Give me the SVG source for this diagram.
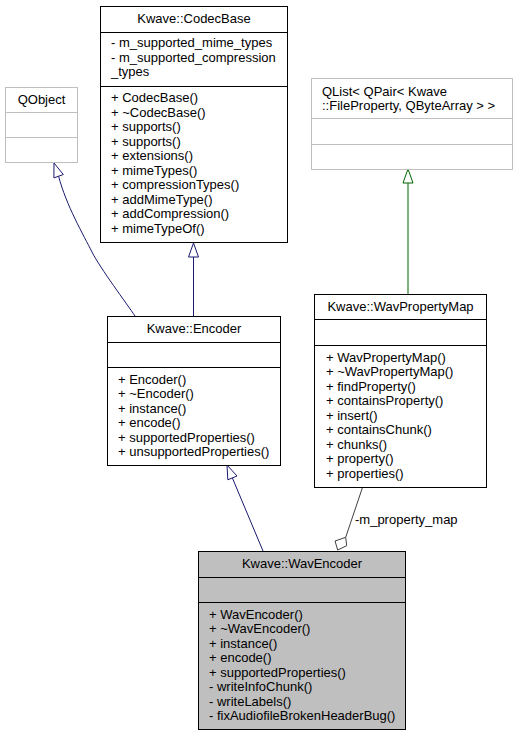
<svg xmlns="http://www.w3.org/2000/svg" width="517" height="736" viewBox="0 0 517 736">
<style>
text{font-family:"Liberation Sans",Arial,Helvetica,sans-serif;font-size:13px;fill:#000}
.t{text-anchor:middle}
.box{fill:#fff;stroke:#000;stroke-width:1}
.gbox{fill:#fff;stroke:#bfbfbf;stroke-width:1}
.sel{fill:#bfbfbf;stroke:#000;stroke-width:1}
.sep{stroke:#000;stroke-width:1}
.gsep{stroke:#bfbfbf;stroke-width:1}
.inh{fill:none;stroke:#191970;stroke-width:1}
.inhh{fill:#fff;stroke:#191970;stroke-width:1}
.tmp{fill:none;stroke:#006400;stroke-width:1}
.tmph{fill:#fff;stroke:#006400;stroke-width:1}
.agg{fill:none;stroke:#404040;stroke-width:1}
.aggh{fill:#fff;stroke:#404040;stroke-width:1}
</style>
<rect width="517" height="736" fill="#fff"/>
<g id="connectors">
<path class="inh" d="M135,316 C127,304 100,268 92,252 C84,236 66,205 58.6,176.2"/>
<polygon class="inhh" points="54,163 63.3,174.5 53.9,177.9"/>
<path class="inh" d="M193.5,316 L193.5,257"/>
<polygon class="inhh" points="193.5,243 198.5,257 188.5,257"/>
<path class="tmp" d="M408,294 L408,183"/>
<polygon class="tmph" points="408,169 413,183 403,183"/>
<path class="inh" d="M263,551 L232.4,478"/>
<polygon class="inhh" points="227,465 237,476 227.8,479.8"/>
<path class="agg" d="M362.3,488 L345.7,537.3"/>
<polygon class="aggh" points="345.7,537.3 346.7,545.7 337.7,550 335,541"/>
<text x="355" y="523.5">-m_property_map</text>
</g>
<g id="QObject">
<rect class="gbox" x="5.5" y="87.5" width="72" height="75"/>
<line class="gsep" x1="5.5" y1="112.5" x2="77.5" y2="112.5"/>
<line class="gsep" x1="5.5" y1="137.5" x2="77.5" y2="137.5"/>
<text class="t" x="41.5" y="104">QObject</text>
</g>
<g id="CodecBase">
<rect class="box" x="100.5" y="6.5" width="187" height="236"/>
<line class="sep" x1="100.5" y1="32.5" x2="287.5" y2="32.5"/>
<line class="sep" x1="100.5" y1="86.5" x2="287.5" y2="86.5"/>
<text class="t" x="194" y="23">Kwave::CodecBase</text>
<text x="111" y="47">- m_supported_mime_types</text>
<text x="111" y="61.5">- m_supported_compression</text>
<text x="111" y="76">_types</text>
<text x="111" y="102">+ CodecBase()</text>
<text x="111" y="116.5">+ ~CodecBase()</text>
<text x="111" y="131">+ supports()</text>
<text x="111" y="145.5">+ supports()</text>
<text x="111" y="160">+ extensions()</text>
<text x="111" y="174.5">+ mimeTypes()</text>
<text x="111" y="189">+ compressionTypes()</text>
<text x="111" y="203.5">+ addMimeType()</text>
<text x="111" y="218">+ addCompression()</text>
<text x="111" y="232.5">+ mimeTypeOf()</text>
</g>
<g id="QList">
<rect class="gbox" x="311.5" y="78.5" width="201" height="91"/>
<line class="gsep" x1="311.5" y1="118.5" x2="512.5" y2="118.5"/>
<line class="gsep" x1="311.5" y1="144.5" x2="512.5" y2="144.5"/>
<text x="322" y="95.5">QList&lt; QPair&lt; Kwave</text>
<text x="322" y="109.5">::FileProperty, QByteArray &gt; &gt;</text>
</g>
<g id="Encoder">
<rect class="box" x="107.5" y="316.5" width="173" height="149"/>
<line class="sep" x1="107.5" y1="342.5" x2="280.5" y2="342.5"/>
<line class="sep" x1="107.5" y1="367.5" x2="280.5" y2="367.5"/>
<text class="t" x="194" y="333">Kwave::Encoder</text>
<text x="118" y="383.5">+ Encoder()</text>
<text x="118" y="398">+ ~Encoder()</text>
<text x="118" y="412.5">+ instance()</text>
<text x="118" y="427">+ encode()</text>
<text x="118" y="441.5">+ supportedProperties()</text>
<text x="118" y="456">+ unsupportedProperties()</text>
</g>
<g id="WavPropertyMap">
<rect class="box" x="314.5" y="294.5" width="172" height="193"/>
<line class="sep" x1="314.5" y1="319.5" x2="486.5" y2="319.5"/>
<line class="sep" x1="314.5" y1="345.5" x2="486.5" y2="345.5"/>
<text class="t" x="400.5" y="311">Kwave::WavPropertyMap</text>
<text x="326" y="361.5">+ WavPropertyMap()</text>
<text x="326" y="376">+ ~WavPropertyMap()</text>
<text x="326" y="390.5">+ findProperty()</text>
<text x="326" y="405">+ containsProperty()</text>
<text x="326" y="419.5">+ insert()</text>
<text x="326" y="434">+ containsChunk()</text>
<text x="326" y="448.5">+ chunks()</text>
<text x="326" y="463">+ property()</text>
<text x="326" y="477.5">+ properties()</text>
</g>
<g id="WavEncoder">
<rect class="sel" x="198.5" y="551.5" width="207" height="178"/>
<line class="sep" x1="198.5" y1="577.5" x2="405.5" y2="577.5"/>
<line class="sep" x1="198.5" y1="602.5" x2="405.5" y2="602.5"/>
<text class="t" x="302" y="568">Kwave::WavEncoder</text>
<text x="209" y="618.5">+ WavEncoder()</text>
<text x="209" y="633">+ ~WavEncoder()</text>
<text x="209" y="647.5">+ instance()</text>
<text x="209" y="662">+ encode()</text>
<text x="209" y="676.5">+ supportedProperties()</text>
<text x="209" y="691">- writeInfoChunk()</text>
<text x="209" y="705.5">- writeLabels()</text>
<text x="209" y="720">- fixAudiofileBrokenHeaderBug()</text>
</g>
</svg>
